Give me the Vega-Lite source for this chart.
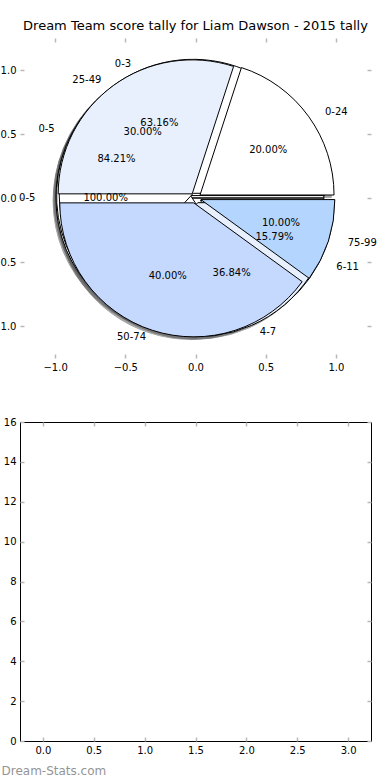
{
  "$schema": "https://vega.github.io/schema/vega-lite/v6.json",
  "padding": {"left": -9, "top": 20, "right": 0, "bottom": 0},
  "spacing": 44,
  "background": "white",
  "config": {
    "font": "DejaVu Sans",
    "axis": {"labelFont": "DejaVu Sans", "labelFontSize": 10, "labelColor": "black", "tickColor": "#b8b8b8", "tickSize": -4, "tickWidth": 1.5, "labelPadding": 8, "domain": false, "grid": false},
    "title": {"font": "DejaVu Sans", "fontSize": 13, "fontWeight": "normal", "color": "black"},
    "view": {"stroke": null}
  },
  "datasets": {
    "pies": [
      {"pie": "D", "label": "0-5", "value": 1.0, "order": 0},
      {"pie": "C", "label": "0-5", "value": 0.8421, "order": 0},
      {"pie": "C", "label": "6-11", "value": 0.1579, "order": 1},
      {"pie": "B", "label": "0-3", "value": 0.6316, "order": 0},
      {"pie": "B", "label": "4-7", "value": 0.3684, "order": 1},
      {"pie": "A", "label": "0-24", "value": 0.2, "order": 0},
      {"pie": "A", "label": "25-49", "value": 0.3, "order": 1},
      {"pie": "A", "label": "50-74", "value": 0.4, "order": 2},
      {"pie": "A", "label": "75-99", "value": 0.1, "order": 3}
    ],
    "bars": [
      {"x": 0, "n": 0},
      {"x": 1, "n": 0},
      {"x": 2, "n": 0},
      {"x": 3, "n": 0}
    ]
  },
  "vconcat": [
    {
      "width": 351,
      "height": 320,
      "title": {"text": "Dream Team score tally for Liam Dawson - 2015 tally", "offset": 4},
      "data": {"name": "pies"},
      "transform": [
        {"stack": "value", "groupby": ["pie"], "sort": [{"field": "order", "order": "ascending"}], "as": ["p0", "p1"]},
        {"calculate": "PI*(datum.p0+datum.p1)", "as": "mid"},
        {"calculate": "0.04*cos(datum.mid)", "as": "ex"},
        {"calculate": "0.04*sin(datum.mid)", "as": "ey"},
        {"calculate": "datum.ex-0.02", "as": "sx"},
        {"calculate": "datum.ey-0.02", "as": "sy"},
        {"calculate": "datum.ex+1.1*cos(datum.mid)", "as": "lx"},
        {"calculate": "datum.ey+1.1*sin(datum.mid)", "as": "ly"},
        {"calculate": "datum.ex+0.6*cos(datum.mid)", "as": "px"},
        {"calculate": "datum.ey+0.6*sin(datum.mid)", "as": "py"}
      ],
      "layer": [
        {
          "mark": {"type": "arc", "radius": 134, "fill": "#4b4c4e", "opacity": 0.5, "stroke": "#4b4c4e", "strokeWidth": 1},
          "encoding": {
            "x": {"field": "sx", "type": "quantitative", "scale": {"domain": [-1.25, 1.25], "nice": false, "zero": false}, "axis": {"orient": "bottom", "values": [-1, -0.5, 0, 0.5, 1], "format": ".1f", "title": null}},
            "y": {"field": "sy", "type": "quantitative", "scale": {"domain": [-1.25, 1.25], "nice": false, "zero": false}, "axis": {"orient": "left", "values": [-1, -0.5, 0, 0.5, 1], "format": ".1f", "title": null}},
            "theta": {"field": "p0", "type": "quantitative", "stack": null, "scale": {"domain": [0, 1], "range": [1.5707963, -4.712389]}},
            "theta2": {"field": "p1"}
          }
        },
        {
          "mark": {"type": "arc", "radius": 134, "stroke": "black", "strokeWidth": 1},
          "encoding": {
            "x": {"field": "ex", "type": "quantitative", "scale": {"domain": [-1.25, 1.25], "nice": false, "zero": false}, "axis": {"orient": "top", "values": [-1, -0.5, 0, 0.5, 1], "labels": false, "title": null}},
            "y": {"field": "ey", "type": "quantitative", "scale": {"domain": [-1.25, 1.25], "nice": false, "zero": false}, "axis": {"orient": "right", "values": [-1, -0.5, 0, 0.5, 1], "labels": false, "title": null}},
            "theta": {"field": "p0", "type": "quantitative", "stack": null, "scale": {"domain": [0, 1], "range": [1.5707963, -4.712389]}},
            "theta2": {"field": "p1"},
            "fill": {"field": "order", "type": "nominal", "scale": {"domain": [0, 1, 2, 3], "range": ["#ffffff", "#e8f0fe", "#c5d8fd", "#b4d5fe"]}, "legend": null}
          }
        },
        {
          "transform": [{"filter": "datum.lx > 0"}],
          "mark": {"type": "text", "align": "left", "baseline": "middle", "fontSize": 10, "color": "black"},
          "encoding": {
            "x": {"field": "lx", "type": "quantitative", "scale": {"domain": [-1.25, 1.25], "nice": false, "zero": false}, "axis": null},
            "y": {"field": "ly", "type": "quantitative", "scale": {"domain": [-1.25, 1.25], "nice": false, "zero": false}, "axis": null},
            "text": {"field": "label"}
          }
        },
        {
          "transform": [{"filter": "datum.lx <= 0"}],
          "mark": {"type": "text", "align": "right", "baseline": "middle", "fontSize": 10, "color": "black"},
          "encoding": {
            "x": {"field": "lx", "type": "quantitative", "scale": {"domain": [-1.25, 1.25], "nice": false, "zero": false}, "axis": null},
            "y": {"field": "ly", "type": "quantitative", "scale": {"domain": [-1.25, 1.25], "nice": false, "zero": false}, "axis": null},
            "text": {"field": "label"}
          }
        },
        {
          "mark": {"type": "text", "align": "center", "baseline": "middle", "fontSize": 10, "color": "black"},
          "encoding": {
            "x": {"field": "px", "type": "quantitative", "scale": {"domain": [-1.25, 1.25], "nice": false, "zero": false}, "axis": null},
            "y": {"field": "py", "type": "quantitative", "scale": {"domain": [-1.25, 1.25], "nice": false, "zero": false}, "axis": null},
            "text": {"field": "value", "format": ".2%"}
          }
        }
      ],
      "resolve": {"axis": {"x": "independent", "y": "independent"}}
    },
    {
      "width": 351,
      "height": 319,
      "view": {"stroke": "black", "strokeWidth": 1},
      "data": {"name": "bars"},
      "layer": [
        {
          "mark": {"type": "bar", "size": 1},
          "encoding": {
            "x": {"field": "x", "type": "quantitative", "scale": {"domain": [-0.225, 3.225], "nice": false, "zero": false, "padding": 0}, "axis": {"orient": "bottom", "values": [0, 0.5, 1, 1.5, 2, 2.5, 3], "format": ".1f", "title": "Dream-Stats.com", "titleFont": "DejaVu Sans", "titleFontSize": 12, "titleFontWeight": "normal", "titleColor": "#959595", "titleAlign": "left", "titleAnchor": "start", "titleBaseline": "alphabetic", "titleX": -19, "titleY": 33}},
            "y": {"field": "n", "type": "quantitative", "scale": {"domain": [0, 16], "nice": false, "padding": 0}, "axis": {"orient": "left", "values": [0, 2, 4, 6, 8, 10, 12, 14, 16], "format": "d", "title": null}}
          }
        },
        {
          "mark": {"type": "bar", "size": 1},
          "encoding": {
            "x": {"field": "x", "type": "quantitative", "scale": {"domain": [-0.225, 3.225], "nice": false, "zero": false, "padding": 0}, "axis": {"orient": "top", "values": [0, 0.5, 1, 1.5, 2, 2.5, 3], "labels": false, "title": null}},
            "y": {"field": "n", "type": "quantitative", "scale": {"domain": [0, 16], "nice": false, "padding": 0}, "axis": {"orient": "right", "values": [0, 2, 4, 6, 8, 10, 12, 14, 16], "labels": false, "title": null}}
          }
        }
      ],
      "resolve": {"axis": {"x": "independent", "y": "independent"}}
    }
  ]
}
